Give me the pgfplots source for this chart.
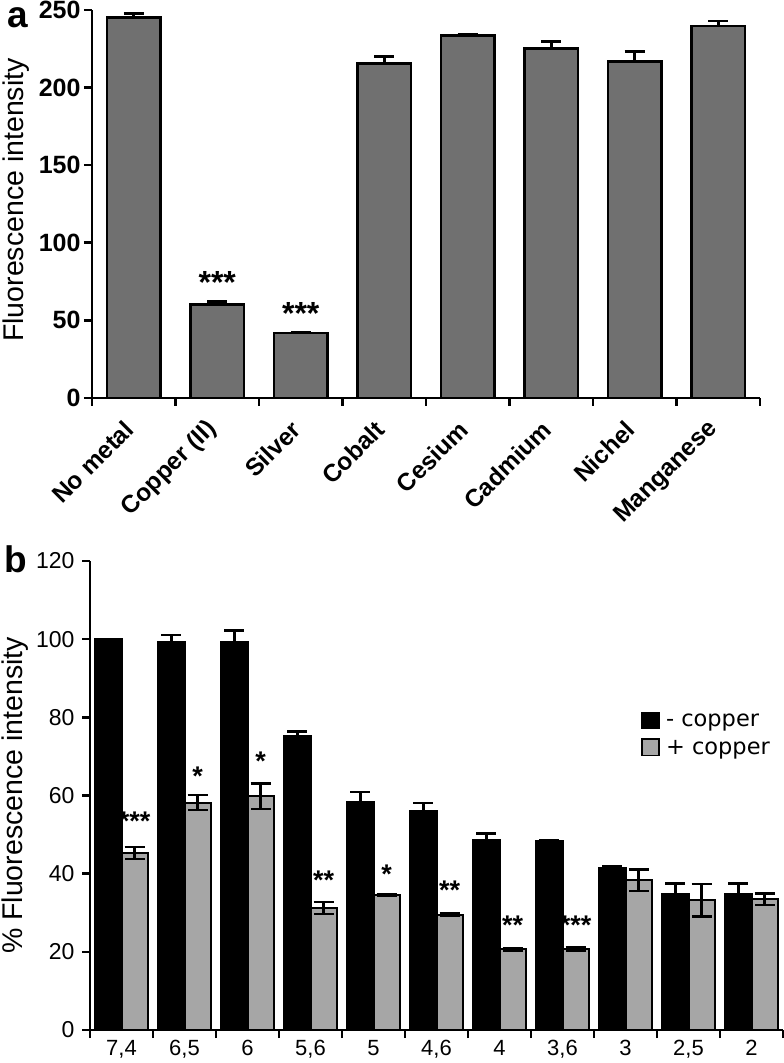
\documentclass[border=0pt]{standalone}
\usepackage{fontspec}
\setmainfont{Liberation Sans}
\newfontfamily\dejavu{DejaVu Sans}
\usepackage{pgfplots}
\pgfplotsset{compat=1.18}
\definecolor{bara}{RGB}{112,112,112}
\definecolor{barb}{RGB}{166,166,166}
\begin{document}
\begin{tikzpicture}
\useasboundingbox (0,0) rectangle (784bp,1063bp);
% ---------------- panel a ----------------
\begin{axis}[
  at={(92bp,665bp)}, anchor=south west,
  scale only axis, width=668bp, height=388bp,
  xmin=0, xmax=8, ymin=0, ymax=250,
  ybar, bar width=0.64,
  axis lines=left,
  axis line style={-, line width=2.6bp},
  tick align=outside,
  major tick length=8bp, minor tick length=8bp,
  tick style={black, line width=2.6bp},
  ytick={0,50,...,250},
  xtick={0.5,1.5,...,7.5},
  xticklabels={No metal, Copper (II), Silver, Cobalt, Cesium, Cadmium, Nichel, Manganese},
  minor xtick={0,1,...,8},
  major x tick style={draw=none},
  /pgf/number format/assume math mode=true,
  yticklabel style={font=\bfseries\fontsize{25bp}{29bp}\selectfont},
  xticklabel style={font=\bfseries\fontsize{24.5bp}{28bp}\selectfont, yshift=-17bp, xshift=-2bp, rotate=45, anchor=east},
  ylabel={Fluorescence intensity},
  ylabel style={font=\fontsize{28.5bp}{32bp}\selectfont, at={(axis description cs:-0.134,0.51)}, anchor=north, inner sep=0pt},
  clip=false,
]
\addplot[fill=bara, draw=black, line width=2.6bp, bar shift=0,
  error bars/.cd, y dir=plus, y explicit,
  error bar style={line width=2.6bp, black},
  error mark options={rotate=90, mark size=10bp, line width=2.6bp, black}]
coordinates {
(0.5,245.3) +- (0,2.6)
(1.5,60.1) +- (0,2.1)
(2.5,41.8) +- (0,0.7)
(3.5,215.7) +- (0,4.3)
(4.5,233.5) +- (0,1.0)
(5.5,225.3) +- (0,4.3)
(6.5,217.0) +- (0,6.2)
(7.5,239.7) +- (0,3.2)
};
\node[font=\bfseries\fontsize{32bp}{32bp}\selectfont, anchor=base] at (axis cs:1.5,67.5) {***};
\node[font=\bfseries\fontsize{32bp}{32bp}\selectfont, anchor=base] at (axis cs:2.5,47.5) {***};
\end{axis}
\node[anchor=base west, inner sep=0pt, font=\bfseries\fontsize{37bp}{37bp}\selectfont] at (7bp,1035bp) {a};
% ---------------- panel b ----------------
\begin{axis}[
  at={(90bp,33bp)}, anchor=south west,
  scale only axis, width=693bp, height=469bp,
  xmin=0, xmax=11, ymin=0, ymax=120,
  ybar, bar width=0.42,
  axis lines=left,
  axis line style={-, line width=2.6bp},
  tick align=outside,
  major tick length=8bp, minor tick length=8bp,
  tick style={black, line width=2.6bp},
  ytick={0,20,...,120},
  xtick={0.5,1.5,...,10.5},
  xticklabels={{7,4},{6,5},6,{5,6},5,{4,6},4,{3,6},3,{2,5},2},
  minor xtick={0,1,...,11},
  major x tick style={draw=none},
  /pgf/number format/assume math mode=true,
  yticklabel style={font=\fontsize{23bp}{27bp}\selectfont, xshift=-4bp},
  xticklabel style={font=\fontsize{22bp}{26bp}\selectfont, inner ysep=1bp, yshift=-1bp},
  ylabel={\% Fluorescence intensity},
  ylabel style={font=\fontsize{28.5bp}{32bp}\selectfont, at={(axis description cs:-0.127,0.5)}, anchor=north, inner sep=0pt},
  legend style={at={(axis cs:8.75,81.5)}, anchor=north west, draw=none, fill=none, inner sep=0pt,
    font=\dejavu\fontsize{22.5bp}{27bp}\selectfont, row sep=8bp},
  legend cell align=left,
  legend image code/.code={\draw[#1, line width=1.2bp] (0bp,-7bp) rectangle (17bp,9bp); \path (21bp,0bp);},
  clip=false,
]
\addplot[fill=black, draw=black, line width=2bp, bar shift=-0.21,
  error bars/.cd, y dir=both, y explicit,
  error bar style={line width=2.6bp, black},
  error mark options={rotate=90, mark size=10bp, line width=2.6bp, black}]
coordinates {
(0.5,100.0) +- (0,0)
(1.5,99.3) +- (0,1.8)
(2.5,99.3) +- (0,2.9)
(3.5,75.3) +- (0,1.0)
(4.5,58.3) +- (0,2.6)
(5.5,56.1) +- (0,2.0)
(6.5,48.7) +- (0,1.5)
(7.5,48.3) +- (0,0.3)
(8.5,41.5) +- (0,0.5)
(9.5,34.8) +- (0,2.7)
(10.5,34.8) +- (0,2.7)
};
\addlegendentry{- copper}
\addplot[fill=barb, draw=black, line width=2bp, bar shift=0.21,
  error bars/.cd, y dir=both, y explicit,
  error bar style={line width=2.6bp, black},
  error mark options={rotate=90, mark size=10bp, line width=2.6bp, black}]
coordinates {
(0.5,45.3) +- (0,1.5)
(1.5,58.2) +- (0,1.9)
(2.5,59.8) +- (0,3.3)
(3.5,31.2) +- (0,1.5)
(4.5,34.5) +- (0,0.2)
(5.5,29.5) +- (0,0.3)
(6.5,20.6) +- (0,0.4)
(7.5,20.7) +- (0,0.4)
(8.5,38.3) +- (0,2.7)
(9.5,33.2) +- (0,4.2)
(10.5,33.5) +- (0,1.5)
};
\addlegendentry{+ copper}
\node[font=\bfseries\fontsize{27bp}{27bp}\selectfont, anchor=base] at (axis cs:0.71,51.0) {***};
\node[font=\bfseries\fontsize{27bp}{27bp}\selectfont, anchor=base] at (axis cs:1.71,62.5) {*};
\node[font=\bfseries\fontsize{27bp}{27bp}\selectfont, anchor=base] at (axis cs:2.71,66.5) {*};
\node[font=\bfseries\fontsize{27bp}{27bp}\selectfont, anchor=base] at (axis cs:3.71,36.0) {**};
\node[font=\bfseries\fontsize{27bp}{27bp}\selectfont, anchor=base] at (axis cs:4.71,37.5) {*};
\node[font=\bfseries\fontsize{27bp}{27bp}\selectfont, anchor=base] at (axis cs:5.71,33.5) {**};
\node[font=\bfseries\fontsize{27bp}{27bp}\selectfont, anchor=base] at (axis cs:6.71,24.5) {**};
\node[font=\bfseries\fontsize{27bp}{27bp}\selectfont, anchor=base] at (axis cs:7.71,24.5) {***};
\end{axis}
\node[anchor=base west, inner sep=0pt, font=\bfseries\fontsize{37bp}{37bp}\selectfont] at (4bp,490bp) {b};
\end{tikzpicture}
\end{document}
